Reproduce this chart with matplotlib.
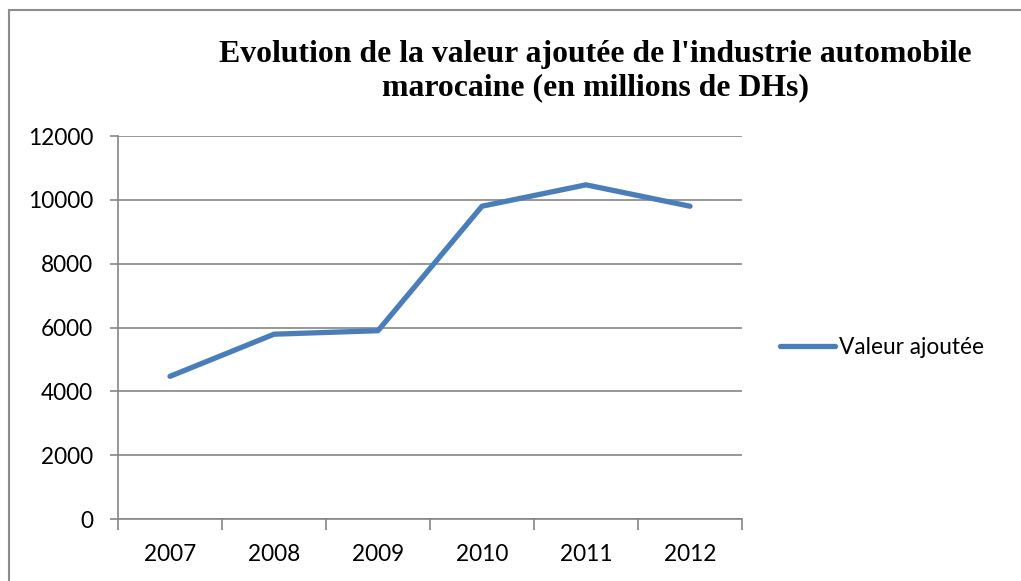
import numpy as np
import matplotlib
matplotlib.use("Agg")
import matplotlib.pyplot as plt
from matplotlib.lines import Line2D

# Data
years = ["2007", "2008", "2009", "2010", "2011", "2012"]
valeur = [4470, 5790, 5900, 9800, 10470, 9800]
yticks = [0, 2000, 4000, 6000, 8000, 10000, 12000]

title = "Evolution de la valeur ajoutée de l'industrie automobile\nmarocaine (en millions de DHs)"
series_name = "Valeur ajoutée"

W, H = 1021, 581
fig = plt.figure(figsize=(W / 100, H / 100), dpi=100)
fig.patch.set_facecolor("white")

# axes placed in pixel coords of the reference
left, right, top, bottom = 118, 742, 136, 519
ax = fig.add_axes([left / W, 1 - bottom / H, (right - left) / W, (bottom - top) / H])

grid_col = "#868686"
x = np.arange(len(years))
ax.plot(x, valeur, color="#4a7ebb", lw=3.8, solid_capstyle="round",
        solid_joinstyle="round", label=series_name, zorder=3)

ax.set_xlim(-0.5, len(years) - 0.5)
ax.set_ylim(yticks[0], yticks[-1])
ax.set_yticks(yticks)
ax.set_yticklabels([str(v) for v in yticks])
ax.set_xticks(x)
ax.set_xticklabels(years)
ax.set_xticks(np.arange(-0.5, len(years)), minor=True)

ax.yaxis.grid(True, color=grid_col, lw=1.2)
ax.set_axisbelow(True)
for s in ["top", "right"]:
    ax.spines[s].set_visible(False)
for s in ["left", "bottom"]:
    ax.spines[s].set_color(grid_col)
    ax.spines[s].set_linewidth(1.2)

lab_font = "Lato"
lab_size = 16.3
ax.tick_params(axis="y", direction="out", length=6, width=1.2, color=grid_col,
               labelsize=lab_size, pad=12)
ax.tick_params(axis="x", which="major", length=0, labelsize=lab_size, pad=18)
ax.tick_params(axis="x", which="minor", direction="out", length=8, width=1.2,
               color=grid_col)
for t in ax.get_xticklabels() + ax.get_yticklabels():
    t.set_fontfamily(lab_font)

# title
fig.text(595 / W, 1 - 71 / H, title, ha="center", va="center",
         fontsize=22.9, fontweight="bold", family="Liberation Serif",
         linespacing=1.2)

# legend
leg = fig.legend(loc="center left", bbox_to_anchor=(780 / W, 1 - 347 / H),
                 frameon=False, borderpad=0, borderaxespad=0,
                 handlelength=2.45, handletextpad=0.15,
                 prop={"family": lab_font, "size": lab_size})

# outer frame (left and top edges visible)
fig.add_artist(Line2D([9 / W, 9 / W], [0, 1 - 10 / H], transform=fig.transFigure,
                      color="#8c8c8c", lw=1.5))
fig.add_artist(Line2D([9 / W, 1], [1 - 10 / H, 1 - 10 / H], transform=fig.transFigure,
                      color="#8c8c8c", lw=1.5))

fig.savefig("out.png", dpi=100)
